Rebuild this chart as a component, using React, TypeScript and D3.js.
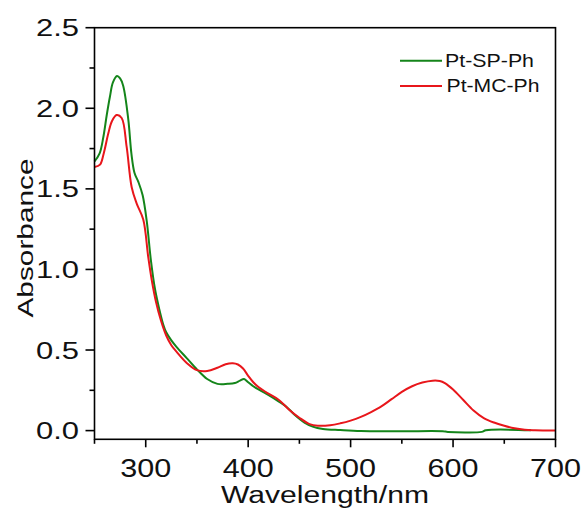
import React from "react";
import * as d3 from "d3";

const spWavelength = [250, 255, 258.6, 262, 265, 268, 272, 275, 278, 283, 286, 289, 293, 297, 301, 305, 309, 313, 317, 320, 325, 330, 340, 350, 360, 370, 380, 387, 392, 396, 400, 405, 411, 420, 430, 437, 445, 455, 463, 473, 490, 510, 550, 590, 595, 628, 632, 676];
const spAbs = [1.67, 1.72, 1.82, 1.96, 2.07, 2.16, 2.2, 2.185, 2.14, 1.93, 1.72, 1.6, 1.54, 1.46, 1.3, 1.06, 0.88, 0.76, 0.66, 0.61, 0.56, 0.52, 0.45, 0.38, 0.32, 0.29, 0.29, 0.295, 0.31, 0.32, 0.3, 0.275, 0.252, 0.22, 0.18, 0.15, 0.1, 0.05, 0.025, 0.01, 0.003, -0.003, -0.004, -0.004, -0.008, -0.008, 0.002, 0.002];

const mcWavelength = [250, 255.4, 259, 263.5, 267, 271.6, 276.5, 281.4, 286.3, 291.1, 297.6, 302.4, 306, 310, 315, 320, 325, 330, 340, 350, 360, 370, 378, 385, 390, 395, 400, 405, 410, 418, 430, 440, 450, 460, 468, 480, 490, 500, 510, 520, 530, 540, 550, 560, 570, 580, 587, 592, 600, 610, 620, 630, 640, 650, 660, 670, 680, 700];
const mcAbs = [1.635, 1.65, 1.72, 1.845, 1.92, 1.958, 1.94, 1.76, 1.51, 1.41, 1.31, 1.08, 0.93, 0.8, 0.68, 0.59, 0.53, 0.49, 0.42, 0.375, 0.37, 0.39, 0.412, 0.418, 0.41, 0.385, 0.34, 0.3, 0.27, 0.236, 0.19, 0.13, 0.08, 0.04, 0.03, 0.033, 0.045, 0.062, 0.085, 0.115, 0.15, 0.195, 0.24, 0.275, 0.298, 0.31, 0.308, 0.295, 0.255, 0.19, 0.125, 0.078, 0.05, 0.03, 0.014, 0.005, 0.002, 0.0];

const xMajorTicks = [300, 400, 500, 600, 700];
const xMinorTicks = [250, 350, 450, 550, 650];
const yMajorTicks = [0, 0.5, 1.0, 1.5, 2.0, 2.5];
const yMinorTicks = [0.25, 0.75, 1.25, 1.75, 2.25];

const seriesNames = ["Pt-SP-Ph", "Pt-MC-Ph"];
const seriesColors = ["#14851a", "#e8161b"];

const FONT = "Arial, 'Liberation Sans', sans-serif";

export default function App() {
  const left = 94.5, right = 555.5, top = 27.7, bottom = 439.3;
  const x = d3.scaleLinear().domain([250, 700]).range([left, right]);
  const y = d3.scaleLinear().domain([-0.054, 2.5]).range([bottom, top]);

  const line = d3
    .line<[number, number]>()
    .x((d) => x(d[0]))
    .y((d) => y(d[1]))
    .curve(d3.curveCatmullRom.alpha(0.5));

  const spData = spWavelength.map((w, i) => [w, spAbs[i]] as [number, number]);
  const mcData = mcWavelength.map((w, i) => [w, mcAbs[i]] as [number, number]);

  return (
    <svg
      width={584}
      height={508}
      style={{ position: "absolute", left: 0, top: 0, background: "#fff" }}
    >
      <rect x={0} y={0} width={584} height={508} fill="#fff" />
      <path d={line(spData) || ""} fill="none" stroke={seriesColors[0]} strokeWidth={2} />
      <path d={line(mcData) || ""} fill="none" stroke={seriesColors[1]} strokeWidth={2} />

      {/* frame */}
      <rect x={left} y={top} width={right - left} height={bottom - top} fill="none" stroke="#000" strokeWidth={1.6} />

      {/* x ticks */}
      {xMajorTicks.map((t) => (
        <g key={"xM" + t}>
          <line x1={x(t)} x2={x(t)} y1={bottom} y2={bottom + 8} stroke="#000" strokeWidth={1.6} />
          <text x={x(t)} y={477} fontFamily={FONT} fontSize={25} textAnchor="middle" textLength={51} lengthAdjust="spacingAndGlyphs" fill="#111">
            {t}
          </text>
        </g>
      ))}
      {xMinorTicks.map((t) => (
        <line key={"xm" + t} x1={x(t)} x2={x(t)} y1={bottom} y2={bottom + 4.5} stroke="#000" strokeWidth={1.6} />
      ))}

      {/* y ticks */}
      {yMajorTicks.map((t) => (
        <g key={"yM" + t}>
          <line x1={left - 9} x2={left} y1={y(t)} y2={y(t)} stroke="#000" strokeWidth={1.6} />
          <text x={79} y={y(t) + 8.5} fontFamily={FONT} fontSize={23.5} textAnchor="end" textLength={43} lengthAdjust="spacingAndGlyphs" fill="#111">
            {t.toFixed(1)}
          </text>
        </g>
      ))}
      {yMinorTicks.map((t) => (
        <line key={"ym" + t} x1={left - 5} x2={left} y1={y(t)} y2={y(t)} stroke="#000" strokeWidth={1.6} />
      ))}

      {/* axis titles */}
      <text x={325} y={503} fontFamily={FONT} fontSize={23.5} textAnchor="middle" textLength={208} lengthAdjust="spacingAndGlyphs" fill="#111">
        Wavelength/nm
      </text>
      <text
        transform="translate(33,238) rotate(-90)"
        fontFamily={FONT}
        fontSize={21.5}
        textAnchor="middle"
        textLength={159}
        lengthAdjust="spacingAndGlyphs"
        fill="#111"
      >
        Absorbance
      </text>

      {/* legend */}
      {seriesNames.map((name, i) => (
        <g key={name}>
          <line x1={400} x2={442} y1={60.7 + i * 25.3} y2={60.7 + i * 25.3} stroke={seriesColors[i]} strokeWidth={2} />
          <text x={445 + i * 1.5} y={67 + i * 25} fontFamily={FONT} fontSize={18.7} textLength={i === 0 ? 89 : 93} lengthAdjust="spacingAndGlyphs" fill="#111">
            {name}
          </text>
        </g>
      ))}
    </svg>
  );
}
